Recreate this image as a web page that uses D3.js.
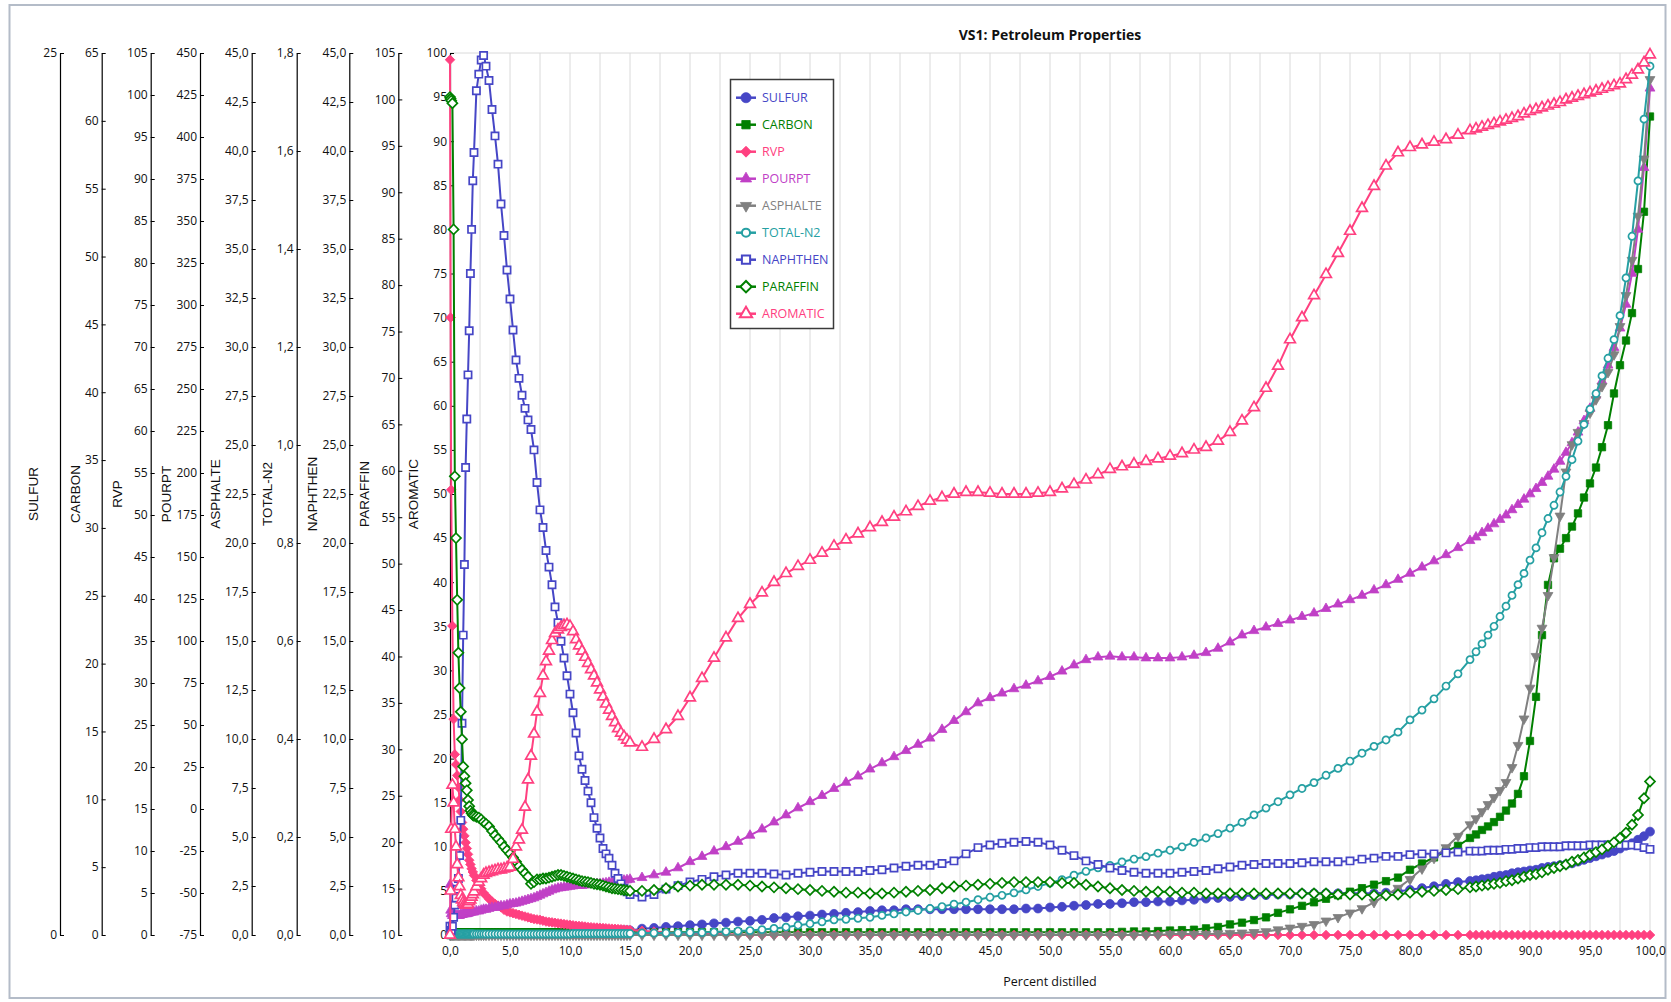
<!DOCTYPE html>
<html><head><meta charset="utf-8">
<script src="https://cdn.jsdelivr.net/npm/d3@7"></script>
<style>
html,body{margin:0;padding:0;background:#fff;}
svg{display:block;}
text{font-family:"Open Sans","Segoe UI",sans-serif;}
</style></head><body>
<svg id="chart" width="1671" height="1002"></svg>
<script>
// ---------- DATA ----------
const X = [0,0.05,0.1,0.2,0.3,0.4,0.5,0.6,0.7,0.8,0.9,1,
1.1,1.2,1.3,1.4,1.5,1.6,1.7,1.8,1.9,2,2.2,2.4,2.6,2.8,3,
3.25,3.5,3.75,4,4.25,4.5,4.75,5,
5.25,5.5,5.75,6,6.25,6.5,6.75,7,7.25,7.5,7.75,8,8.25,8.5,8.75,9,9.25,9.5,9.75,10,
10.25,10.5,10.75,11,11.25,11.5,11.75,12,12.25,12.5,12.75,13,13.25,13.5,13.75,14,14.25,14.5,14.75,15,
16,17,18,19,20,21,22,23,24,25,
26,27,28,29,30,31,32,33,34,35,
36,37,38,39,40,41,42,43,44,45,
46,47,48,49,50,51,52,53,54,55,
56,57,58,59,60,61,62,63,64,65,
66,67,68,69,70,71,72,73,74,75,
76,77,78,79,80,81,82,83,84,85,
85.5,86,86.5,87,87.5,88,88.5,89,89.5,90,90.5,91,
91.5,92,92.5,93,93.5,94,94.5,95,95.5,96,96.5,97,
97.5,98,98.5,99,99.5,100];

const SULFUR = [0.03,0.03,0.03,0.03,0.03,0.03,0.03,0.03,0.03,0.03,0.03,0.03,
0.03,0.03,0.03,0.03,0.03,0.03,0.03,0.03,0.03,0.03,0.03,0.03,0.03,0.03,0.03,
0.03,0.03,0.03,0.03,0.03,0.03,0.03,0.03,
0.05,0.05,0.05,0.05,0.05,0.05,0.05,0.05,0.05,0.05,0.05,0.05,0.05,0.05,0.05,0.05,0.05,0.05,0.05,0.05,
0.08,0.08,0.08,0.08,0.08,0.08,0.08,0.08,0.1,0.1,0.1,0.1,0.1,0.1,0.1,0.1,0.13,0.13,0.13,0.13,
0.18,0.2,0.23,0.25,0.28,0.3,0.33,0.35,0.38,0.4,
0.43,0.48,0.5,0.53,0.55,0.58,0.6,0.63,0.65,0.68,
0.7,0.7,0.73,0.73,0.73,0.73,0.73,0.73,0.73,0.73,
0.73,0.73,0.75,0.75,0.78,0.8,0.83,0.85,0.88,0.88,
0.9,0.93,0.93,0.95,0.95,0.98,1,1.03,1.05,1.08,
1.1,1.13,1.13,1.15,1.15,1.18,1.18,1.18,1.18,1.18,
1.18,1.18,1.2,1.23,1.28,1.33,1.38,1.45,1.5,1.53,
1.55,1.58,1.6,1.65,1.68,1.7,1.75,1.78,1.8,1.83,1.85,1.9,
1.93,1.95,1.98,2,2.03,2.08,2.13,2.18,2.23,2.28,2.33,2.38,
2.45,2.53,2.6,2.7,2.8,2.93];

const CARBON = [0,0,0.13,0.2,0.2,0.2,0.2,0.2,0.2,0.2,0.2,0.2,
0.2,0.2,0.2,0.2,0.2,0.2,0.2,0.2,0.2,0.2,0.2,0.2,0.2,0.2,0.2,
0.2,0.2,0.2,0.2,0.2,0.2,0.2,0.2,
0.2,0.2,0.2,0.2,0.2,0.2,0.2,0.2,0.2,0.2,0.2,0.2,0.2,0.2,0.2,0.2,0.2,0.2,0.2,0.2,
0.2,0.2,0.2,0.2,0.2,0.2,0.2,0.2,0.2,0.2,0.2,0.2,0.2,0.2,0.2,0.2,0.2,0.2,0.2,0.2,
0.2,0.2,0.2,0.2,0.2,0.2,0.2,0.2,0.2,0.2,
0.2,0.2,0.2,0.2,0.2,0.2,0.2,0.2,0.2,0.2,
0.2,0.2,0.2,0.2,0.2,0.2,0.2,0.2,0.2,0.2,
0.2,0.2,0.2,0.2,0.2,0.2,0.2,0.2,0.2,0.2,
0.23,0.26,0.26,0.29,0.33,0.36,0.39,0.49,0.59,0.78,
0.91,1.1,1.3,1.63,1.89,2.15,2.41,2.67,2.93,3.19,
3.45,3.71,3.97,4.23,4.81,5.27,5.72,6.18,6.57,7.15,
7.41,7.74,8,8.32,8.71,9.17,9.69,10.4,11.7,14.3,17.55,22.1,
25.8,27.76,28.47,29.25,30.1,31.07,32.24,33.28,34.45,35.95,37.57,39.91,
41.99,43.81,45.83,49.08,53.3,60.32];

const RVP = [104.2,73.5,53,36.8,25.7,21.5,20.3,19,17.6,16.1,14.7,13.4,
12.6,11.8,11,10.3,9.6,8.9,8.4,7.9,7.5,7.1,6.5,6,5.5,5,4.7,
4.3,4,3.7,3.5,3.3,3,2.8,2.7,
2.6,2.5,2.4,2.3,2.2,2.1,2,1.9,1.85,1.8,1.7,1.6,1.55,1.5,1.45,1.4,1.35,1.3,1.25,1.2,
1.15,1.1,1.08,1.05,1,0.95,0.93,0.9,0.88,0.85,0.83,0.8,0.78,0.75,0.73,0.7,0.68,0.65,0.63,0.6,
0.5,0.4,0.3,0.25,0.2,0.15,0.1,0.1,0.05,0,
0,0,0,0,0,0,0,0,0,0,
0,0,0,0,0,0,0,0,0,0,
0,0,0,0,0,0,0,0,0,0,
0,0,0,0,0,0,0,0,0,0,
0,0,0,0,0,0,0,0,0,0,
0,0,0,0,0,0,0,0,0,0,
0,0,0,0,0,0,0,0,0,0,0,0,
0,0,0,0,0,0,0,0,0,0,0,0,
0,0,0,0,0,0];

const POURPT = [-45.1,-60.3,-62.4,-63.45,-63.45,-63.45,-63.45,-63.45,-63.45,-63.45,-62.9,-62.9,
-62.65,-62.4,-62.4,-62.4,-62.15,-61.9,-61.6,-61.35,-61.35,-61.35,-60.8,-60.8,-60.3,-59.8,-59.8,
-59.25,-58.7,-58.7,-58.2,-57.7,-57.7,-57.15,-56.6,
-56.36,-56.1,-55.58,-55.05,-54.53,-54,-53.48,-52.95,-52.16,-51.38,-50.59,-49.8,-49.01,-48.23,-47.7,-47.18,-46.91,-46.65,-46.39,-46.13,
-45.86,-45.6,-45.6,-45.6,-45.34,-45.08,-44.81,-44.55,-44.55,-44.55,-44.29,-44.03,-43.76,-43.5,-43.24,-42.98,-42.71,-42.45,-42.19,-41.93,
-40.9,-39.3,-37.7,-35.1,-31.4,-28.3,-25.1,-22.5,-19.35,-15.7,
-12,-7.8,-3.6,0.6,4.3,7.95,12.15,15.8,19.5,23.7,
27.4,31.05,34.7,38.4,42.1,47.3,52.6,57.8,63.1,66.2,
68.9,71.5,73.6,76.2,78.8,82,85.65,88.8,90.4,90.9,
90.4,90.4,89.85,89.85,89.85,90.4,91.4,93,95.6,99.3,
103.5,106.1,108.2,110.3,112.4,114.5,116.6,119.25,121.9,124.5,
127.1,130.3,133.4,136.6,140.25,143.9,147.6,151.3,155.5,159.7,
161.8,164.4,167,169.65,172.3,174.9,178.05,181.2,184.35,187.5,190.65,194.3,
198,202.2,206.9,212.2,217.95,224.25,231.1,238.4,246.3,254.7,264.15,274.65,
286.2,300.4,318.75,345,381.75,429];

const ASPHALTE = [0,0,0,0,0,0,0,0,0,0,0,0,
0,0,0,0,0,0,0,0,0,0,0,0,0,0,0,
0,0,0,0,0,0,0,0,
0,0,0,0,0,0,0,0,0,0,0,0,0,0,0,0,0,0,0,0,
0,0,0,0,0,0,0,0,0,0,0,0,0,0,0,0,0,0,0,0,
0,0,0,0,0,0,0,0,0,0,
0,0,0,0,0,0,0,0,0,0,
0,0,0,0,0,0,0,0,0,0,
0,0,0,0,0,0,0,0,0,0,
0,0,0,0,0.045,0.045,0.045,0.045,0.07,0.09,
0.11,0.135,0.18,0.27,0.36,0.45,0.54,0.72,0.9,1.13,
1.35,1.67,2.03,2.39,2.84,3.38,3.92,4.46,5.04,5.63,
5.94,6.3,6.66,7.02,7.38,7.79,8.55,9.68,11.03,12.6,14.22,15.66,
17.33,19.26,21.38,23.63,25.02,25.65,26.1,26.64,27.32,27.99,28.71,29.61,
31.05,32.63,34.43,36.68,39.6,43.65];

const TOTAL_N2 = [0,0.002,0.002,0.002,0.002,0.002,0.002,0.002,0.002,0.002,0.002,0.002,
0.002,0.002,0.002,0.002,0.002,0.002,0.002,0.002,0.002,0.002,0.002,0.002,0.002,0.002,0.002,
0.002,0.002,0.002,0.002,0.002,0.002,0.002,0.002,
0.002,0.002,0.002,0.002,0.002,0.002,0.002,0.002,0.002,0.002,0.002,0.002,0.002,0.002,0.002,0.002,0.002,0.002,0.002,0.002,
0.003,0.003,0.003,0.003,0.003,0.003,0.003,0.003,0.003,0.003,0.003,0.003,0.003,0.003,0.003,0.003,0.003,0.003,0.003,0.003,
0.004,0.004,0.004,0.0045,0.005,0.005,0.006,0.007,0.008,0.009,
0.011,0.0135,0.016,0.02,0.023,0.027,0.031,0.032,0.034,0.036,
0.04,0.043,0.047,0.05,0.054,0.058,0.063,0.067,0.072,0.077,
0.081,0.086,0.092,0.099,0.106,0.113,0.122,0.13,0.137,0.142,
0.149,0.155,0.16,0.167,0.173,0.18,0.189,0.198,0.207,0.218,
0.23,0.245,0.259,0.272,0.286,0.299,0.311,0.326,0.34,0.355,
0.371,0.385,0.398,0.414,0.439,0.459,0.482,0.508,0.533,0.562,
0.578,0.594,0.612,0.63,0.65,0.671,0.693,0.715,0.738,0.765,0.79,0.821,
0.85,0.877,0.904,0.936,0.97,1.008,1.042,1.073,1.105,1.141,1.177,1.215,
1.264,1.341,1.426,1.539,1.665,1.773];

const NAPHTHEN = [0.45,0.23,0.23,0.45,0.9,1.53,1.89,2.34,2.88,4.05,5.85,10.8,
15.3,18.9,23.85,26.33,28.58,30.83,33.75,36,38.48,39.92,43.07,43.92,44.64,44.87,44.33,
43.6,42.12,40.77,39.33,37.3,35.69,33.93,32.45,
30.87,29.34,28.4,27.54,26.87,26.28,25.79,24.75,23.09,21.69,20.79,19.62,18.77,17.87,16.74,15.93,14.99,14.13,13.23,12.29,
11.34,10.31,9.14,8.46,7.88,7.34,6.75,5.99,5.45,4.95,4.41,4.14,3.92,3.56,3.15,2.88,2.61,2.39,2.21,2.07,
1.94,2.07,2.34,2.52,2.7,2.84,2.97,3.06,3.15,3.15,
3.15,3.11,3.06,3.15,3.2,3.24,3.24,3.24,3.24,3.29,
3.33,3.42,3.51,3.56,3.56,3.65,3.78,4.14,4.46,4.59,
4.68,4.73,4.77,4.73,4.59,4.32,4.05,3.78,3.6,3.42,
3.29,3.2,3.15,3.15,3.15,3.2,3.24,3.29,3.38,3.47,
3.56,3.6,3.65,3.65,3.65,3.69,3.74,3.74,3.74,3.78,
3.87,3.92,4.01,4.01,4.1,4.14,4.14,4.19,4.23,4.28,
4.28,4.28,4.32,4.32,4.32,4.37,4.37,4.41,4.41,4.46,4.46,4.5,
4.5,4.5,4.5,4.55,4.55,4.55,4.55,4.59,4.59,4.59,4.59,4.59,
4.59,4.59,4.59,4.55,4.46,4.37];

const PARAFFIN = [100.25,100.06,99.87,99.59,86,59.4,52.75,46.1,40.4,36.6,34.04,31.09,
28.15,27.1,26.34,25.58,24.54,23.87,23.4,23.11,22.92,22.83,22.73,22.64,22.45,22.16,21.97,
21.69,21.21,20.74,20.36,19.98,19.5,19.12,18.74,
18.36,17.89,17.41,17.03,16.65,16.27,15.51,15.7,15.99,15.99,16.08,16.08,16.18,16.27,16.37,16.46,16.46,16.37,16.27,16.18,
16.08,15.99,15.89,15.8,15.75,15.7,15.61,15.51,15.46,15.42,15.32,15.23,15.13,15.04,14.99,14.94,14.89,14.85,14.8,14.75,
14.75,14.85,15.04,15.23,15.32,15.42,15.42,15.42,15.42,15.32,
15.23,15.13,15.04,14.94,14.85,14.75,14.66,14.56,14.56,14.47,
14.47,14.56,14.66,14.75,14.85,15.04,15.23,15.32,15.42,15.51,
15.61,15.7,15.7,15.7,15.7,15.61,15.61,15.42,15.23,15.04,
14.85,14.75,14.66,14.66,14.66,14.56,14.56,14.47,14.47,14.47,
14.47,14.47,14.47,14.47,14.47,14.47,14.47,14.47,14.37,14.37,
14.37,14.28,14.28,14.37,14.56,14.66,14.75,14.85,14.94,15.13,
15.23,15.32,15.42,15.51,15.61,15.8,15.89,16.08,16.27,16.46,16.56,16.75,
17.03,17.22,17.41,17.6,17.89,18.08,18.36,18.65,18.93,19.22,19.6,19.98,
20.45,21.02,21.88,22.92,24.73,26.53];

const AROMATIC = [0,5,12,17,15,12,10,8,6.5,5.5,4.5,4,
3.7,3.5,3.4,3.4,3.5,3.8,4,4.3,4.6,4.9,5.5,6,6.4,6.8,7,
7.1,7.2,7.3,7.4,7.4,7.5,7.6,7.7,
8.6,10,10.8,11.9,14.5,17.6,20.3,22.8,25.3,27.4,29.4,31,32.2,33.4,34.2,34.6,34.9,35.1,35.2,35,
34.4,33.5,32.8,32.2,31.5,30.8,30.1,29.4,28.6,27.8,27,26.2,25.5,24.8,24.1,23.4,22.9,22.5,22.1,21.8,
21.3,22.2,23.3,24.8,26.9,29.1,31.4,33.7,35.9,37.5,
38.8,40,41,41.8,42.5,43.3,44.1,44.8,45.5,46.2,
46.8,47.4,48,48.6,49.2,49.6,50,50.2,50.2,50.1,
50,50,50,50.1,50.2,50.6,51.1,51.6,52.2,52.8,
53.1,53.4,53.7,54,54.3,54.6,55,55.3,56,57,
58.3,59.8,62,64.5,67.5,70,72.5,74.9,77.3,79.8,
82.4,84.9,87.2,88.7,89.3,89.6,89.9,90.2,90.7,91.2,
91.4,91.6,91.8,92,92.2,92.4,92.6,92.8,93.1,93.4,93.6,93.8,
94,94.2,94.4,94.7,94.9,95.1,95.3,95.5,95.7,95.9,96.1,96.3,
96.5,97,97.5,98.1,98.9,99.8];

const SERIES_NAMES = ["SULFUR","CARBON","RVP","POURPT","ASPHALTE","TOTAL-N2","NAPHTHEN","PARAFFIN","AROMATIC"];
const SERIES_VALUES = [SULFUR, CARBON, RVP, POURPT, ASPHALTE, TOTAL_N2, NAPHTHEN, PARAFFIN, AROMATIC];
const AXIS_MIN = [0, 0, 0, -75, 0, 0, 0, 10, 0];
const AXIS_MAX = [25, 65, 105, 450, 45, 1.8, 45, 105, 100];
const AXIS_STEP = [25, 5, 5, 25, 2.5, 0.2, 2.5, 5, 5];
const AXIS_DECIMALS = [0, 0, 0, 0, 1, 1, 1, 0, 0];
const X_TICKS = [0,5,10,15,20,25,30,35,40,45,50,55,60,65,70,75,80,85,90,95,100];
const TITLE = "VS1: Petroleum Properties";
const X_LABEL = "Percent distilled";

// ---------- LAYOUT / STYLE ----------
const PLOT = {left:450, right:1650, top:53, bottom:935};
const AXIS_X = [60, 101.7, 150.7, 200, 251.7, 296.7, 349.3, 398.3, 450];
const AXIS_TITLE_X = [33, 75, 117, 166, 215, 267, 312, 364, 413];
const STYLE = [
  {color:'#4646c6', sym:'circle', fill:true, size:62},
  {color:'#008000', sym:'square', fill:true, size:54},
  {color:'#ff4080', sym:'diamond', fill:true, size:46},
  {color:'#c040c6', sym:'triangle', fill:true, size:42},
  {color:'#808080', sym:'triangleDown', fill:true, size:42},
  {color:'#26a0a3', sym:'circle', fill:false, size:40},
  {color:'#4646c6', sym:'square', fill:false, size:52},
  {color:'#008000', sym:'diamond', fill:false, size:50},
  {color:'#ff4080', sym:'triangle', fill:false, size:50}
];
const SYM = {circle:d3.symbolCircle, square:d3.symbolSquare, diamond:d3.symbolSquare, triangle:d3.symbolTriangle, triangleDown:d3.symbolTriangle};
const ROT = {diamond:45, triangleDown:180};

const svg = d3.select('#chart');
svg.append('rect').attr('width',1671).attr('height',1002).attr('fill','#fff');
svg.append('rect').attr('x',9.5).attr('y',5).attr('width',1656).attr('height',993)
  .attr('fill','none').attr('stroke','#b4bcc8').attr('stroke-width',2);

const xScale = d3.scaleLinear().domain([0,100]).range([PLOT.left, PLOT.right]);

// grid
const grid = svg.append('g');
grid.selectAll('line.v').data(d3.range(2.5, 100.01, 2.5)).join('line')
  .attr('x1', d=>xScale(d)).attr('x2', d=>xScale(d))
  .attr('y1', PLOT.top).attr('y2', PLOT.bottom)
  .attr('stroke','#dadada').attr('stroke-width',1);
grid.append('line').attr('x1',PLOT.left).attr('x2',PLOT.right).attr('y1',PLOT.top).attr('y2',PLOT.top)
  .attr('stroke','#dadada').attr('stroke-width',1);

const fmtComma = (v,dec)=> dec ? (+v).toFixed(dec).replace('.',',') : String(Math.round(v));

// y axes
const yScales = SERIES_NAMES.map((n,i)=> d3.scaleLinear().domain([AXIS_MIN[i], AXIS_MAX[i]]).range([PLOT.bottom, PLOT.top]));
SERIES_NAMES.forEach((name,i)=>{
  const ticks = d3.range(AXIS_MIN[i], AXIS_MAX[i] + AXIS_STEP[i]/2, AXIS_STEP[i]);
  const ax = d3.axisLeft(yScales[i]).tickValues(ticks).tickSizeInner(-4).tickSizeOuter(0).tickPadding(3)
     .tickFormat(v=>fmtComma(v, AXIS_DECIMALS[i]));
  const g = svg.append('g').attr('transform',`translate(${AXIS_X[i]},0)`).call(ax);
  g.select('.domain').attr('stroke','#000').attr('stroke-width',1.2);
  g.selectAll('.tick line').attr('stroke','#000');
  g.selectAll('.tick text').attr('fill','#111').style('font-size','12px').style('font-family','"Open Sans",sans-serif');
  svg.append('text').attr('transform',`translate(${AXIS_TITLE_X[i]},494) rotate(-90)`)
    .attr('text-anchor','middle').attr('dy','0.35em')
    .style('font-family','"Liberation Sans",Arial,sans-serif').style('font-size','13.5px').attr('fill','#111')
    .text(name);
});

// x axis
const xa = d3.axisBottom(xScale).tickValues(X_TICKS).tickSizeInner(3).tickSizeOuter(0).tickPadding(8)
   .tickFormat(v=>fmtComma(v,1));
const gx = svg.append('g').attr('transform',`translate(0,${PLOT.bottom})`).call(xa);
gx.select('.domain').attr('stroke','#000').attr('stroke-width',1);
gx.selectAll('.tick line').attr('stroke','#000');
gx.selectAll('.tick text').attr('fill','#111').style('font-size','12px');

// series
const symPath = (s)=> d3.symbol().type(SYM[s.sym]).size(s.size)();
SERIES_NAMES.forEach((name,i)=>{
  const st = STYLE[i], ys = yScales[i], vals = SERIES_VALUES[i];
  const line = d3.line().x((d,j)=>xScale(X[j])).y(d=>ys(d));
  const g = svg.append('g');
  g.append('path').datum(vals).attr('d',line).attr('fill','none').attr('stroke',st.color).attr('stroke-width',2);
  const p = symPath(st);
  g.selectAll('path.m').data(vals).join('path').attr('class','m')
    .attr('d',p)
    .attr('transform',(d,j)=>`translate(${xScale(X[j])},${ys(d)}) rotate(${ROT[st.sym]||0})`)
    .attr('fill', st.fill ? st.color : '#fff')
    .attr('stroke', st.color).attr('stroke-width', st.fill ? 0.8 : 1.7);
});

// legend
const lg = svg.append('g');
lg.append('rect').attr('x',730.5).attr('y',79.5).attr('width',103).attr('height',249)
  .attr('fill','#fff').attr('stroke','#3a3a3a').attr('stroke-width',1.5);
SERIES_NAMES.forEach((name,i)=>{
  const st = STYLE[i]; const y = 97.7 + i*27;
  lg.append('line').attr('x1',736).attr('x2',756).attr('y1',y).attr('y2',y).attr('stroke',st.color).attr('stroke-width',2.5);
  lg.append('path').attr('d', d3.symbol().type(SYM[st.sym]).size(st.size*1.3)())
    .attr('transform',`translate(746,${y}) rotate(${ROT[st.sym]||0})`)
    .attr('fill', st.fill ? st.color : '#fff').attr('stroke',st.color).attr('stroke-width', st.fill?0.8:2);
  lg.append('text').attr('x',762).attr('y',y).attr('dy','0.36em').attr('fill',st.color)
    .style('font-size','12.5px').text(name);
});

// titles
svg.append('text').attr('x',1050).attr('y',40).attr('text-anchor','middle')
  .style('font-size','14px').style('font-weight','bold').attr('fill','#111').text(TITLE);
svg.append('text').attr('x',1050).attr('y',986).attr('text-anchor','middle')
  .style('font-size','12.5px').attr('fill','#111').text(X_LABEL);
</script>
</body></html>
